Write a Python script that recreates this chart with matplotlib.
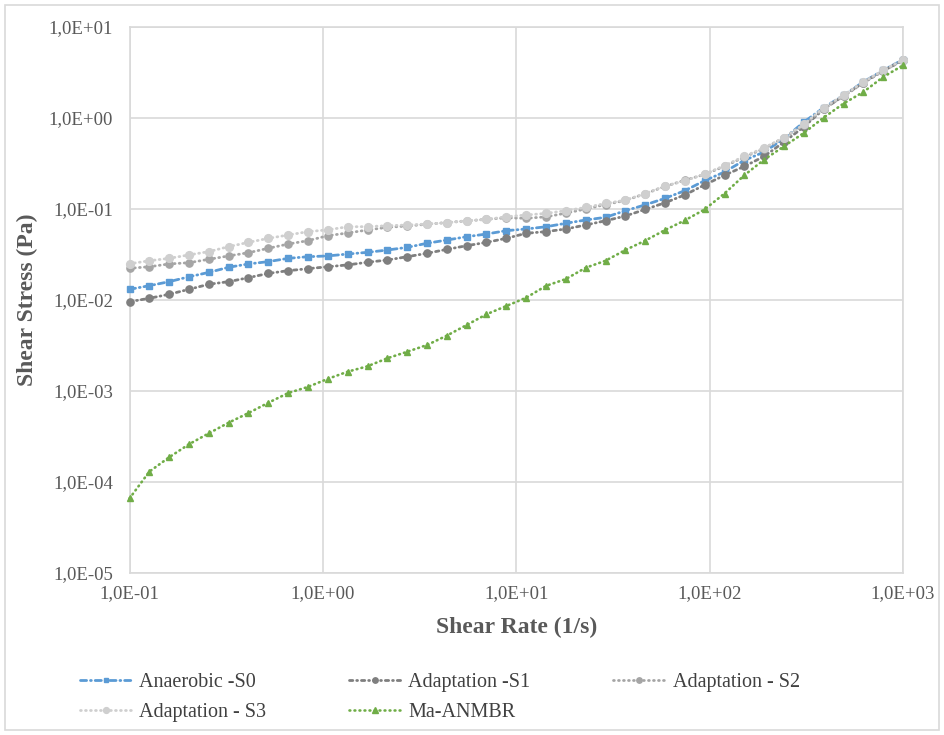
import matplotlib
matplotlib.use("Agg")
import math
import matplotlib.pyplot as plt
from matplotlib.ticker import FuncFormatter, NullLocator
from matplotlib.patches import Rectangle

shear_rate = [0.1, 0.12664, 0.16037, 0.20309, 0.25719, 0.32570, 0.41246, 0.52233,
              0.66147, 0.83768, 1.0608, 1.3434, 1.7013, 2.1544, 2.7283, 3.4551,
              4.3755, 5.5410, 7.0170, 8.8862, 11.253, 14.251, 18.047, 22.854,
              28.943, 36.652, 46.416, 58.780, 74.438, 94.267, 119.38, 151.18,
              191.45, 242.45, 307.03, 388.82, 492.39, 623.55, 789.65, 1000.0]

s0 = [0.0131, 0.01436, 0.0159, 0.0180, 0.0201, 0.0229, 0.0249, 0.0264, 0.0287, 0.0299,
      0.0305, 0.0320, 0.0334, 0.0354, 0.0379, 0.0420, 0.0456, 0.0496, 0.0531, 0.0578,
      0.0603, 0.0638, 0.0697, 0.0757, 0.081, 0.0958, 0.111, 0.131, 0.159, 0.205,
      0.255, 0.343, 0.423, 0.593, 0.90, 1.30, 1.77, 2.49, 3.34, 4.38]

s1 = [0.00958, 0.01044, 0.01156, 0.0131, 0.0149, 0.0159, 0.0176, 0.0196, 0.0210, 0.0221,
      0.0232, 0.0243, 0.0260, 0.0275, 0.0299, 0.0326, 0.0360, 0.0395, 0.0430, 0.0476,
      0.0541, 0.0564, 0.0603, 0.0667, 0.0743, 0.0837, 0.099, 0.117, 0.143, 0.184,
      0.235, 0.294, 0.379, 0.545, 0.80, 1.25, 1.75, 2.45, 3.30, 4.30]

s2 = [0.0223, 0.0232, 0.0249, 0.0257, 0.0280, 0.0305, 0.0331, 0.0370, 0.0412, 0.0449,
      0.0509, 0.0545, 0.0588, 0.0629, 0.065, 0.068, 0.071, 0.074, 0.077, 0.080,
      0.079, 0.082, 0.090, 0.100, 0.112, 0.124, 0.147, 0.177, 0.207, 0.240,
      0.294, 0.373, 0.461, 0.61, 0.83, 1.27, 1.73, 2.43, 3.29, 4.30]

s3 = [0.0250, 0.0270, 0.0287, 0.0313, 0.0340, 0.0386, 0.0430, 0.0476, 0.0518, 0.0564,
      0.059, 0.0638, 0.064, 0.0655, 0.0667, 0.0684, 0.0706, 0.0743, 0.0769, 0.0822,
      0.0859, 0.0895, 0.0958, 0.104, 0.115, 0.125, 0.148, 0.179, 0.204, 0.242,
      0.30, 0.38, 0.47, 0.61, 0.85, 1.30, 1.78, 2.49, 3.34, 4.38]

ma = [6.6e-5, 1.30e-4, 1.87e-4, 2.60e-4, 3.43e-4, 4.49e-4, 5.73e-4, 7.43e-4, 9.5e-4, 1.11e-3,
      1.36e-3, 1.63e-3, 1.87e-3, 2.29e-3, 2.70e-3, 3.20e-3, 4.06e-3, 5.31e-3, 6.97e-3, 8.59e-3,
      1.06e-2, 1.43e-2, 1.70e-2, 2.26e-2, 2.70e-2, 3.54e-2, 4.49e-2, 5.87e-2, 7.5e-2, 9.9e-2,
      0.148, 0.235, 0.349, 0.489, 0.684, 1.01, 1.44, 1.93, 2.82, 3.79]

labels = ["Anaerobic -S0", "Adaptation -S1", "Adaptation - S2", "Adaptation - S3", "Ma-ANMBR"]
x_ticks = [0.1, 1, 10, 100, 1000]
y_ticks = [1e-5, 1e-4, 1e-3, 1e-2, 1e-1, 1, 10]

plt.rcParams['font.family'] = ['Liberation Serif', 'DejaVu Serif']

fig = plt.figure(figsize=(9.44, 7.35), dpi=100)
fig.patches.append(Rectangle((5 / 944, 5 / 735), 934 / 944, 725 / 735, transform=fig.transFigure,
                             fill=False, edgecolor='#D9D9D9', linewidth=1.2))
ax = fig.add_axes([129.5 / 944, 1 - 573 / 735, (903 - 129.5) / 944, (573 - 27) / 735])

styles = [
    dict(color='#5B9BD5', marker='s', ms=4.5, ls=(0, (2.2, 1.4, 0.3, 1.4)), lw=2.0),
    dict(color='#7F7F7F', marker='o', ms=5.2, ls=(0, (1.2, 1.4, 0.3, 1.4)), lw=2.0),
    dict(color='#A5A5A5', marker='o', ms=5.2, ls=(0, (0.3, 1.5)), lw=2.0),
    dict(color='#CFCFCF', marker='o', ms=5.6, ls=(0, (0.3, 1.5)), lw=2.0),
    dict(color='#70AD47', marker='^', ms=5.0, ls=(0, (0.3, 1.6)), lw=1.9),
]
handles = []
for ys, lab, st in zip([s0, s1, s2, s3, ma], labels, styles):
    h, = ax.plot(shear_rate, ys, color=st['color'], marker=st['marker'], markersize=st['ms'],
                 markeredgecolor=st['color'], markerfacecolor=st['color'],
                 linestyle=st['ls'], linewidth=st['lw'], dash_capstyle='round', label=lab,
                 clip_on=False, zorder=3)
    handles.append(h)

ax.set_xscale('log')
ax.set_yscale('log')
ax.set_xlim(0.1, 1000)
ax.set_ylim(1e-5, 10)
ax.set_xticks(x_ticks)
ax.set_yticks(y_ticks)
ax.xaxis.set_minor_locator(NullLocator())
ax.yaxis.set_minor_locator(NullLocator())


def fmt(v, pos=None):
    e = int(round(math.log10(v)))
    return "1,0E%s%02d" % ('+' if e >= 0 else '-', abs(e))


ax.xaxis.set_major_formatter(FuncFormatter(fmt))
ax.yaxis.set_major_formatter(FuncFormatter(fmt))
ax.tick_params(axis='x', length=0, labelsize=13.5, labelcolor='#595959', pad=9)
ax.tick_params(axis='y', length=0, labelsize=13.5, labelcolor='#595959', pad=12)
ax.grid(True, color='#D9D9D9', linewidth=1.2)
ax.set_axisbelow(True)
for sp in ax.spines.values():
    sp.set_color('#D9D9D9')
    sp.set_linewidth(1.2)

ax.set_xlabel("Shear Rate (1/s)", fontsize=17, fontweight='bold', color='#595959', labelpad=10)
ax.set_ylabel("Shear Stress (Pa)", fontsize=17, fontweight='bold', color='#595959')
ax.yaxis.set_label_coords(-0.118, 0.5)

order = [0, 3, 1, 4, 2]
leg = fig.legend([handles[i] for i in order], [labels[i] for i in order],
                 ncol=3, loc='upper left', bbox_to_anchor=(72 / 944, 1 - 665 / 735),
                 frameon=False, fontsize=14.5, handlelength=2.6, handletextpad=0.35,
                 columnspacing=4.1, labelspacing=0.55, markerscale=0.75, borderaxespad=0)
for t in leg.get_texts():
    t.set_color('#404040')

fig.savefig("out.png", dpi=100)
